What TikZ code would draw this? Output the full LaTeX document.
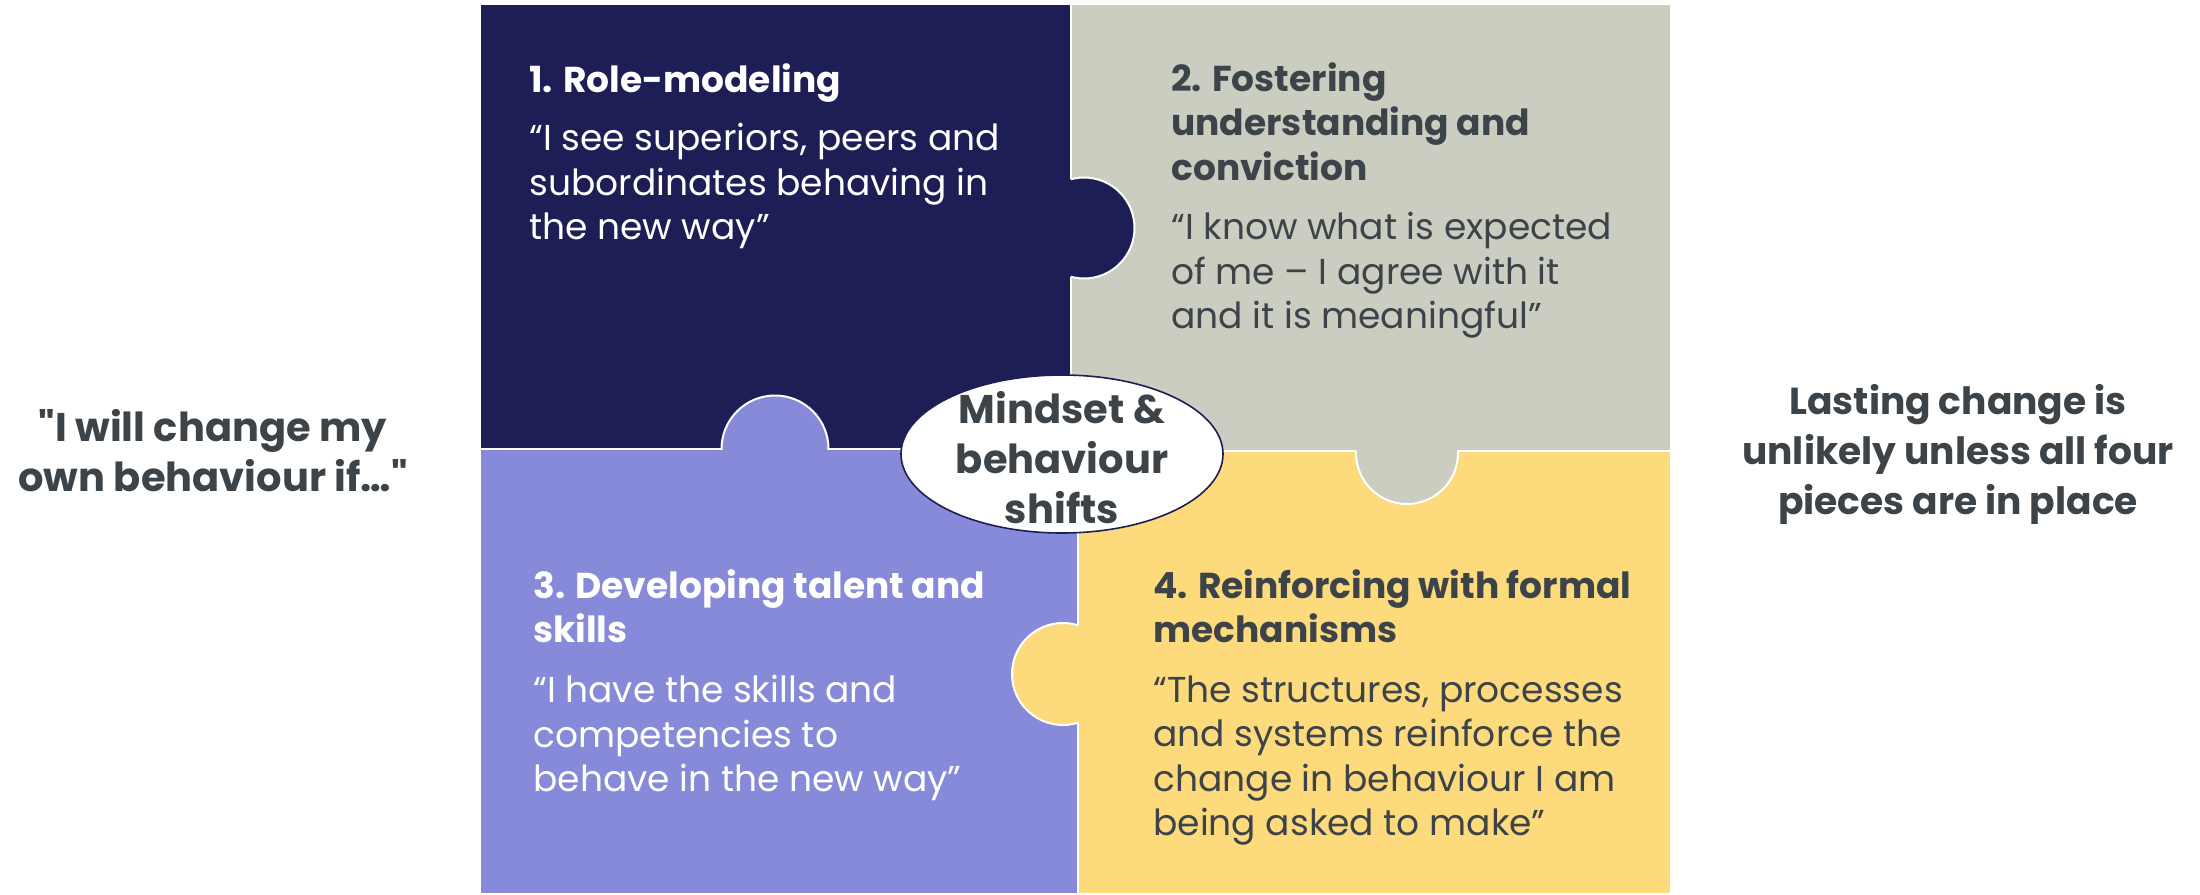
\documentclass[tikz,border=0pt]{standalone}
\usepackage{fontspec}
\setmainfont{Poppins}
\newfontfamily\straightq{Poppins}
\usepackage{tikz}
\usetikzlibrary{shapes.geometric}

\definecolor{rolenavy}{RGB}{29,30,85}
\definecolor{fostergrey}{RGB}{203,205,192}
\definecolor{talentpurple}{RGB}{134,138,216}
\definecolor{mechyellow}{RGB}{253,219,124}
\definecolor{inkgrey}{RGB}{61,68,73}

\begin{document}
\begin{tikzpicture}[x=0.5pt,y=0.5pt,yscale=-1,xscale=1,
  piece/.style={draw=white,line width=1pt},
  tabline/.style={draw=white,line width=1pt},
  paneltitle/.style={anchor=north west,inner sep=0pt,align=left,font=\fontsize{18}{22.25}\selectfont\bfseries},
  panelquote/.style={anchor=north west,inner sep=0pt,align=left,font=\fontsize{18}{22.25}\selectfont},
  sidetext/.style={inner sep=0pt,align=center,text=inkgrey,font=\fontsize{20}{25}\selectfont\bfseries}]
\useasboundingbox (0,0) rectangle (2200,894);

%Shape: Rectangle
\draw [piece, fill=rolenavy] (480,4) rectangle (1071,449);
%Shape: Rectangle
\draw [piece, fill=fostergrey] (1071,4) rectangle (1671,451);
%Shape: Rectangle
\draw [piece, fill=talentpurple] (480,449) rectangle (1078,894);
%Shape: Rectangle
\draw [piece, fill=mechyellow] (1078,451) rectangle (1671,894);

%Shape: Circle (tab 1 into 2)
\fill [rolenavy] (1084,228) circle [radius=50.5];
\begin{scope}
\clip (1071,0) rectangle (1671,451);
\draw [tabline] (1084,228) circle [radius=50.5];
\end{scope}
%Shape: Circle (tab 3 into 1)
\fill [talentpurple] (775,449) circle [radius=53.5];
\begin{scope}
\clip (480,0) rectangle (1071,449);
\draw [tabline] (775,449) circle [radius=53.5];
\end{scope}
%Shape: Circle (tab 2 into 4)
\fill [fostergrey] (1407,453) circle [radius=51];
\begin{scope}
\clip (1078,451) rectangle (1671,894);
\draw [tabline] (1407,453) circle [radius=51];
\end{scope}
%Shape: Circle (tab 4 into 3)
\fill [mechyellow] (1063,674) circle [radius=51];
\begin{scope}
\clip (480,449) rectangle (1078,894);
\draw [tabline] (1063,674) circle [radius=51];
\end{scope}

%Shape: Ellipse
\node (core) [ellipse, draw=rolenavy, fill=white, line width=0.8pt, inner sep=0pt, minimum width=161pt, minimum height=79pt] at (1062,454) {};

% Text Node
\node (coretext) [sidetext] at (1062,458) {Mindset \&\\behaviour\\shifts};
% Text Node
\node (rolehead) [paneltitle, text=white] at (529,63) {1. Role-modeling};
% Text Node
\node (rolequote) [panelquote, text=white] at (529,123) {“I see superiors, peers and\\subordinates behaving in\\the new way”};
% Text Node
\node (fosterhead) [paneltitle, text=inkgrey] at (1171,62) {2. Fostering\\understanding and\\conviction};
% Text Node
\node (fosterquote) [panelquote, text=inkgrey] at (1171,212) {“I know what is expected\\of me – I agree with it\\and it is meaningful”};
% Text Node
\node (talenthead) [paneltitle, text=white] at (533,569) {3. Developing talent and\\skills};
% Text Node
\node (talentquote) [panelquote, text=white] at (533,675) {“I have the skills and\\competencies to\\behave in the new way”};
% Text Node
\node (mechhead) [paneltitle, text=inkgrey] at (1153,569) {4. Reinforcing with formal\\mechanisms};
% Text Node
\node (mechquote) [panelquote, text=inkgrey] at (1153,675) {“The structures, processes\\and systems reinforce the\\change in behaviour I am\\being asked to make”};
% Text Node
\node (ownif) [sidetext, anchor=north] at (213,409) {{\straightq"}I will change my\\own behaviour if…{\straightq"}};
% Text Node
\node (lasting) [sidetext, anchor=north, font=\fontsize{18.8}{25}\selectfont\bfseries] at (1958,384) {Lasting change is\\unlikely unless all four\\pieces are in place};

\end{tikzpicture}
\end{document}
